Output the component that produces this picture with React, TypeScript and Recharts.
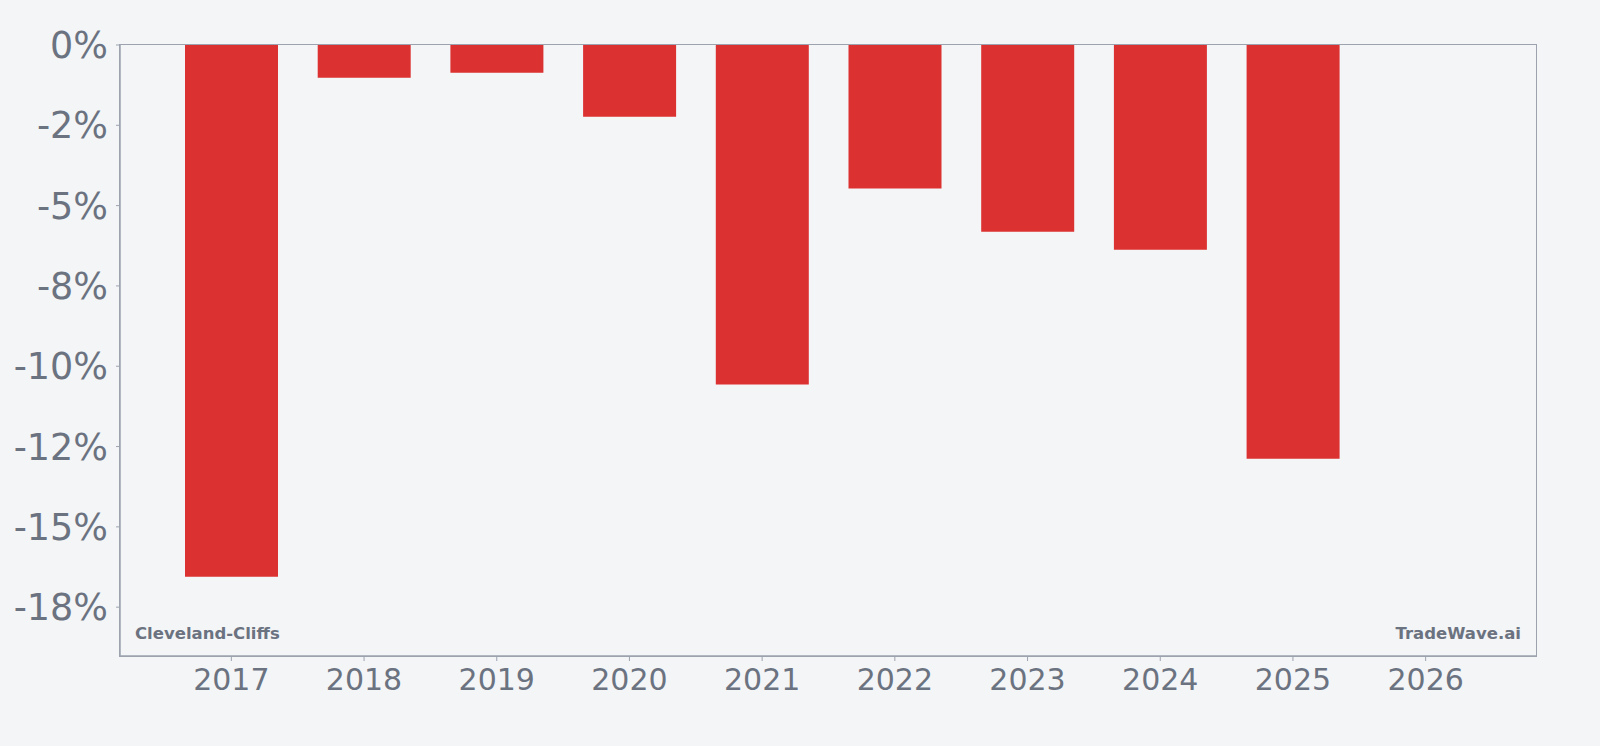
import { BarChart, Bar, XAxis, YAxis } from 'recharts';

const years = ['2017', '2018', '2019', '2020', '2021', '2022', '2023', '2024', '2025', '2026'];
const returns = [-16.55, -1.02, -0.86, -2.23, -10.57, -4.47, -5.81, -6.37, -12.88, null];
const yTicks = [0, -2.5, -5, -7.5, -10, -12.5, -15, -17.5];
const yTickLabels = ['0%', '-2%', '-5%', '-8%', '-10%', '-12%', '-15%', '-18%'];
const tickerName = 'Cleveland-Cliffs';
const brandName = 'TradeWave.ai';

const data = years.map((year, i) => ({ year, value: returns[i] }));

const FONT = '"DejaVu Sans", Verdana, sans-serif';
const TEXT = '#6b7280';
const AXIS = '#9ca3af';
const BG = '#f4f5f7';

// plot box in page pixels
const PLOT = { left: 120, top: 45, right: 1536, bottom: 656 };

export default function App() {
    return (
        <div style={{ position: 'relative', width: 1600, height: 746, background: BG, fontFamily: FONT }}>
            <style>{`body{margin:0;background:${BG};}`}</style>
            <BarChart
                width={1600}
                height={746}
                data={data}
                margin={{ top: PLOT.top, right: 1600 - PLOT.right, left: 0, bottom: 0 }}
            >
                <XAxis
                    dataKey="year"
                    height={746 - PLOT.bottom}
                    padding={{ left: 45, right: 44 }}
                    axisLine={{ stroke: AXIS, strokeWidth: 1.5 }}
                    tickLine={{ stroke: AXIS }}
                    tickSize={5}
                    tickMargin={8}
                    tick={{ fill: TEXT, fontSize: 30, fontFamily: FONT }}
                />
                <YAxis
                    width={PLOT.left}
                    domain={[-19.02, 0]}
                    ticks={yTicks}
                    interval={0}
                    allowDataOverflow
                    tickFormatter={(v: number) => yTickLabels[yTicks.indexOf(v)] ?? ''}
                    axisLine={{ stroke: AXIS, strokeWidth: 1.5 }}
                    tickLine={{ stroke: AXIS }}
                    tickSize={4}
                    tickMargin={8}
                    tick={{ fill: TEXT, fontSize: 36.5, fontFamily: FONT }}
                />
                <Bar dataKey="value" fill="#dc3131" barSize={93} isAnimationActive={false} />
            </BarChart>
            {/* frame around the plot area */}
            <div
                style={{
                    position: 'absolute',
                    left: PLOT.left - 0.75,
                    top: PLOT.top - 0.75,
                    width: PLOT.right - PLOT.left,
                    height: PLOT.bottom - PLOT.top,
                    border: `1.5px solid ${AXIS}`,
                    pointerEvents: 'none',
                }}
            />
            <div
                style={{
                    position: 'absolute',
                    left: 135,
                    top: 624,
                    fontSize: 16.5,
                    fontWeight: 'bold',
                    color: TEXT,
                    lineHeight: '20px',
                }}
            >
                {tickerName}
            </div>
            <div
                style={{
                    position: 'absolute',
                    right: 1600 - 1521,
                    top: 624,
                    fontSize: 16.5,
                    fontWeight: 'bold',
                    color: TEXT,
                    lineHeight: '20px',
                }}
            >
                {brandName}
            </div>
        </div>
    );
}
